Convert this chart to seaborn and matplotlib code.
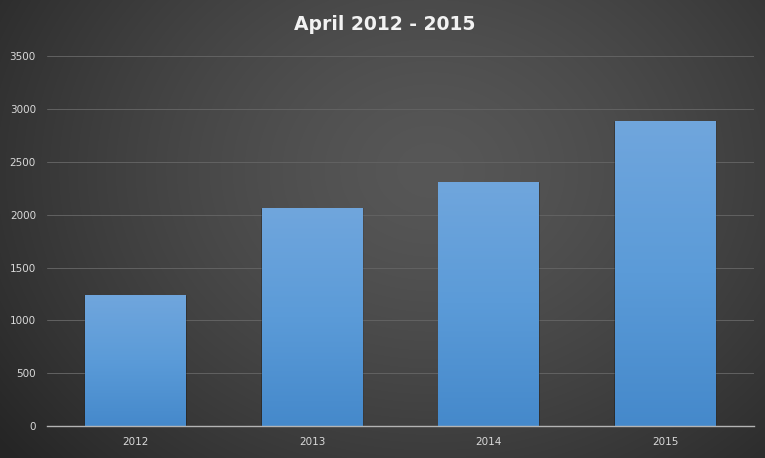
import numpy as np
import pandas as pd
import matplotlib
matplotlib.use("Agg")
import matplotlib.pyplot as plt
import seaborn as sns
from matplotlib.colors import LinearSegmentedColormap

years = ["2012", "2013", "2014", "2015"]
values = [1240, 2063, 2310, 2887]
title = "April 2012 - 2015"

sns.set_theme(style="dark")
plt.rcParams['font.family'] = ['DejaVu Sans']

W, H = 7.65, 4.58
fig = plt.figure(figsize=(W, H), dpi=100)

# radial background
bg = fig.add_axes([0, 0, 1, 1], zorder=-10)
yy, xx = np.mgrid[0:458, 0:765]
cx, cy = 430, 170
r = np.sqrt(((xx - cx) / 540.0) ** 2 + ((yy - cy) / 440.0) ** 2)
r = np.clip(r, 0, 1)
c0 = np.array([0x57, 0x57, 0x57]) / 255
c1 = np.array([0x26, 0x26, 0x26]) / 255
t = r[..., None] ** 1.4
img = c0[None, None, :] * (1 - t) + c1[None, None, :] * t
bg.imshow(img, aspect='auto', extent=[0, 1, 0, 1], origin='upper')
bg.axis('off')

ax = fig.add_axes([47 / 765, 1 - 426 / 458, (753.5 - 47) / 765, (426 - 56.3) / 458])
ax.set_facecolor('none')

df = pd.DataFrame({"year": years, "value": values})
sns.barplot(data=df, x="year", y="value", ax=ax, width=0.57, color="#5b9bd5",
            saturation=1, zorder=3)

ax.set_ylim(0, 3500)
ax.set_yticks(np.arange(0, 3501, 500))
ax.set_xlabel("")
ax.set_ylabel("")
ax.grid(axis='y', color='#626262', linewidth=0.7, zorder=0)
ax.grid(axis='x', visible=False)
for s in ['top', 'right', 'left']:
    ax.spines[s].set_visible(False)
ax.spines['bottom'].set_color('#b4b4b4')
ax.spines['bottom'].set_linewidth(1.0)
ax.spines['bottom'].set_zorder(5)
ax.tick_params(axis='both', length=0, colors='#d9d9d9', labelsize=7.5)
ax.tick_params(axis='x', pad=8)
ax.tick_params(axis='y', pad=8)

# gradient fill + soft shadow on bars
cmap = LinearSegmentedColormap.from_list("bar", ["#4589cb", "#5b9bd8", "#70a6dd"])
grad = np.linspace(0, 1, 256).reshape(-1, 1)
for p in list(ax.patches):
    x0, y0 = p.get_x(), p.get_y()
    w, h = p.get_width(), p.get_height()
    for k, a in [(0.012, 0.10), (0.007, 0.15)]:
        shadow = plt.Rectangle((x0 - k * 0.3, y0), w + k, h - 8 + k * 400, facecolor='black',
                               alpha=a, edgecolor='none', zorder=2)
        ax.add_patch(shadow)
    p.set_facecolor('none')
    p.set_edgecolor('none')
    im = ax.imshow(grad, cmap=cmap, aspect='auto', origin='lower',
                   extent=[x0, x0 + w, y0, y0 + h], zorder=3)
    im.set_clip_path(p)

ax.set_xlim(-0.5, 3.5)
ax.set_ylim(0, 3500)

fig.text(385 / 765, 1 - 24 / 458, title, ha='center', va='center', color='#f2f2f2',
         fontsize=13.5, fontweight='bold')

fig.savefig("out.png", dpi=100)
